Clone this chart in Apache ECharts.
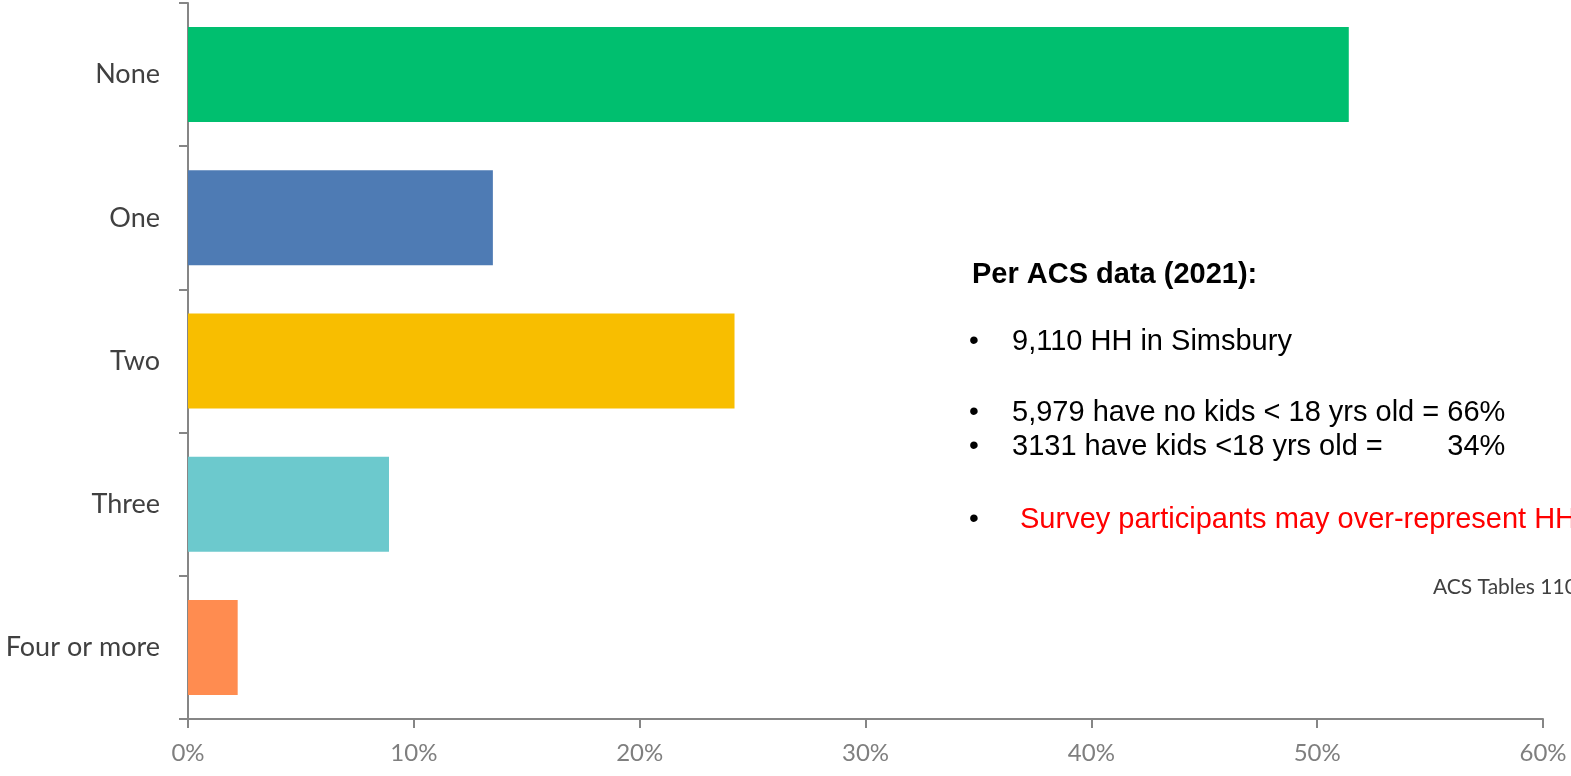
<!DOCTYPE html>
<html>
<head>
<meta charset="utf-8">
<script src="https://cdn.jsdelivr.net/npm/echarts@6/dist/echarts.min.js"></script>
<style>
html,body{margin:0;padding:0;background:#fff;}
#chart{width:1571px;height:776px;}
</style>
</head>
<body>
<div id="chart"></div>
<script>
const categories = ['None', 'One', 'Two', 'Three', 'Four or more'];
const values = [51.4, 13.5, 24.2, 8.9, 2.2];
const barColors = ['#00BF6F', '#4E7BB4', '#F8BE00', '#6CC9CD', '#FF8C50'];
const xTicks = [0, 10, 20, 30, 40, 50, 60];

const notes = [
  { text: 'Per ACS data (2021):', bold: true, color: '#000', x: 972, y: 277, bullet: false },
  { text: '9,110 HH in Simsbury', color: '#000', x: 1012, y: 344, bullet: true },
  { text: '5,979 have no kids < 18 yrs old = 66%', color: '#000', x: 1012, y: 415, bullet: true },
  { text: '3131 have kids <18 yrs old =        34%', color: '#000', x: 1012, y: 449, bullet: true },
  { text: 'Survey participants may over-represent HH with kids', color: '#FF0000', x: 1020, y: 522, bullet: true }
];

const graphics = [];
notes.forEach(n => {
  if (n.bullet) {
    graphics.push({ type: 'text', left: 969, top: n.y - 17, style: { text: '•', font: '28px "Liberation Sans", Arial', fill: '#000' } });
  }
  graphics.push({ type: 'text', left: n.x, top: n.y - 17, style: { text: n.text, font: (n.bold ? 'bold ' : '') + '29px "Liberation Sans", Arial', fill: n.color } });
});
graphics.push({ type: 'text', left: 1433, top: 577, style: { text: 'ACS Tables 11001', font: '21px Lato', fill: '#404040' } });

const chart = echarts.init(document.getElementById('chart'));
chart.setOption({
  animation: false,
  grid: { left: 188, right: 28, top: 3, bottom: 57, containLabel: false },
  xAxis: {
    type: 'value', min: 0, max: 60, interval: 10,
    axisLine: { show: true, lineStyle: { color: '#868686', width: 2 } },
    axisTick: { show: true, length: 9, lineStyle: { color: '#868686', width: 2 } },
    splitLine: { show: false },
    axisLabel: { margin: 22, color: '#7F7F7F', fontFamily: 'Lato', fontSize: 24, formatter: v => v + '%' }
  },
  yAxis: {
    type: 'category', data: categories, inverse: true,
    axisLine: { show: true, lineStyle: { color: '#868686', width: 2 } },
    axisTick: { show: true, length: 9, lineStyle: { color: '#868686', width: 2 } },
    axisLabel: { margin: 28, color: '#404040', fontFamily: 'Lato', fontSize: 27 }
  },
  series: [{
    type: 'bar',
    data: values.map((v, i) => ({ value: v, itemStyle: { color: barColors[i] } })),
    barWidth: 95
  }],
  graphic: graphics
});
</script>
</body>
</html>
